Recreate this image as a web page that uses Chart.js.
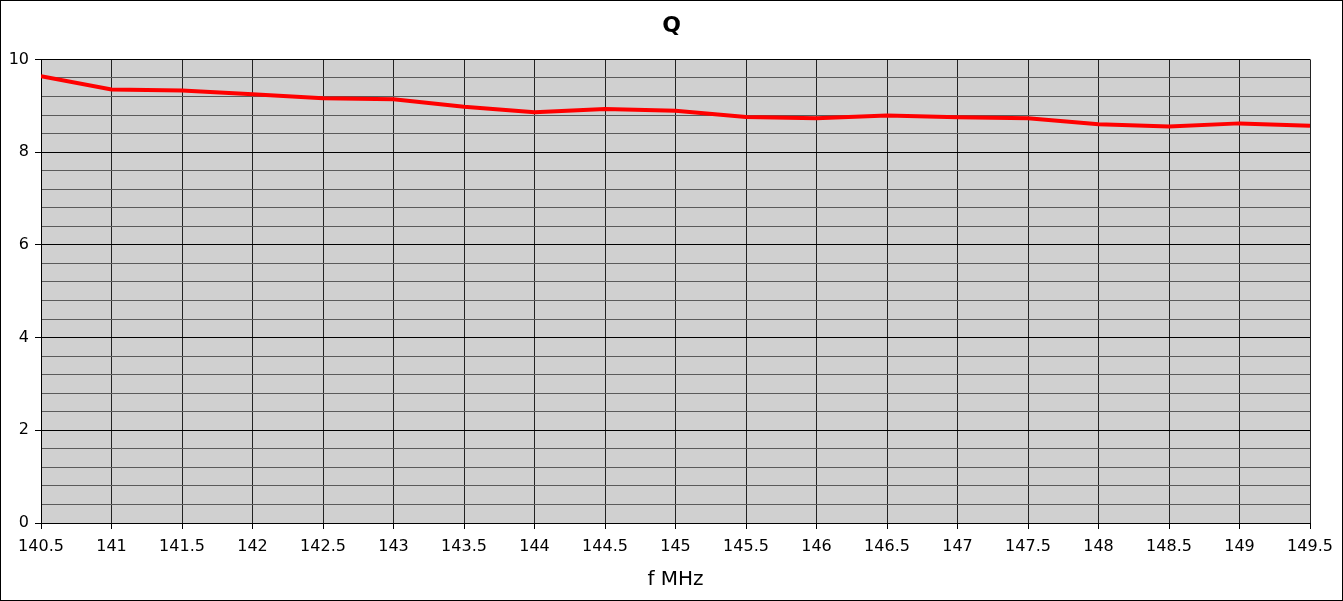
<!DOCTYPE html>
<html>
<head>
<meta charset="utf-8">
<script src="https://cdn.jsdelivr.net/npm/chart.js@4/dist/chart.umd.min.js"></script>
<style>
  html, body { margin: 0; padding: 0; background: #fff; }
  #marco { width: 1343px; height: 601px; border: 1px solid #000; box-sizing: border-box; }
  #grafica { display: block; }
</style>
</head>
<body>
<div id="marco"><canvas id="grafica" width="1341" height="599"></canvas></div>
<script>
// frecuencia en MHz y factor Q
const FRECUENCIAS = [140.5, 141, 141.5, 142, 142.5, 143, 143.5, 144, 144.5, 145,
  145.5, 146, 146.5, 147, 147.5, 148, 148.5, 149, 149.5];
const Q = [9.64, 9.35, 9.33, 9.25, 9.16, 9.14, 8.98, 8.86, 8.93, 8.89,
  8.76, 8.73, 8.79, 8.75, 8.73, 8.60, 8.55, 8.62, 8.57];
// marcas del eje y: cada 0.4 una línea, rotulo cada 2
const Y_MARCAS = [0, 0.4, 0.8, 1.2, 1.6, 2, 2.4, 2.8, 3.2, 3.6, 4, 4.4, 4.8, 5.2, 5.6,
  6, 6.4, 6.8, 7.2, 7.6, 8, 8.4, 8.8, 9.2, 9.6, 10];
const Y_ROTULOS = [0, 2, 4, 6, 8, 10];

const FUENTE = 'DejaVu Sans';
const esMayor = (v) => Y_ROTULOS.some((r) => Math.abs(r - v) < 1e-6);

const fondoArea = {
  id: 'fondoArea',
  beforeDraw(chart) {
    const { ctx, chartArea: a } = chart;
    ctx.save();
    ctx.fillStyle = '#d0d0d0';
    ctx.fillRect(a.left, a.top, a.right - a.left, a.bottom - a.top);
    ctx.restore();
  },
};

new Chart(document.getElementById('grafica'), {
  type: 'line',
  data: {
    datasets: [{
      data: FRECUENCIAS.map((f, i) => ({ x: f, y: Q[i] })),
      borderColor: '#ff0000',
      borderWidth: 4,
      pointRadius: 0,
      tension: 0,
    }],
  },
  options: {
    responsive: false,
    animation: false,
    layout: { padding: 0 },
    plugins: {
      legend: { display: false },
      tooltip: { enabled: false },
      title: {
        display: true,
        text: 'Q',
        color: '#000',
        font: { family: FUENTE, size: 22, weight: 'bold' },
        padding: { top: 12, bottom: 20 },
      },
    },
    scales: {
      x: {
        type: 'linear',
        min: 140.5,
        max: 149.5,
        afterFit: (s) => { s.height = 77; },
        afterBuildTicks: (s) => { s.ticks = FRECUENCIAS.map((v) => ({ value: v })); },
        ticks: {
          color: '#000',
          font: { family: FUENTE, size: 16 },
          padding: 8,
          maxRotation: 0,
          autoSkip: false,
          callback: (v) => String(v),
        },
        grid: { color: '#222', lineWidth: 1, tickLength: 6, tickColor: '#000' },
        border: { color: '#000', width: 1 },
        title: {
          display: true,
          text: 'f MHz',
          color: '#000',
          font: { family: FUENTE, size: 20 },
          padding: { top: 0, bottom: 8 },
        },
      },
      y: {
        min: 0,
        max: 10,
        afterFit: (s) => { s.width = 40; },
        afterBuildTicks: (s) => { s.ticks = Y_MARCAS.map((v) => ({ value: v })); },
        ticks: {
          color: '#000',
          font: { family: FUENTE, size: 16 },
          padding: 6,
          autoSkip: false,
          callback: (v) => (esMayor(v) ? String(Math.round(v)) : ''),
        },
        grid: {
          color: (c) => (esMayor(c.tick.value) ? '#000' : '#5a5a5a'),
          lineWidth: 1,
          tickLength: 6,
          tickColor: (c) => (esMayor(c.tick.value) ? '#000' : 'rgba(0,0,0,0)'),
        },
        border: { color: '#000', width: 1 },
      },
      // margen derecho vacío, para que el título quede centrado en todo el lienzo
      margenDerecho: {
        type: 'linear',
        position: 'right',
        afterFit: (s) => { s.width = 32; },
        ticks: { display: false },
        grid: { display: false },
        border: { display: false },
      },
    },
  },
  plugins: [fondoArea],
});
</script>
</body>
</html>
